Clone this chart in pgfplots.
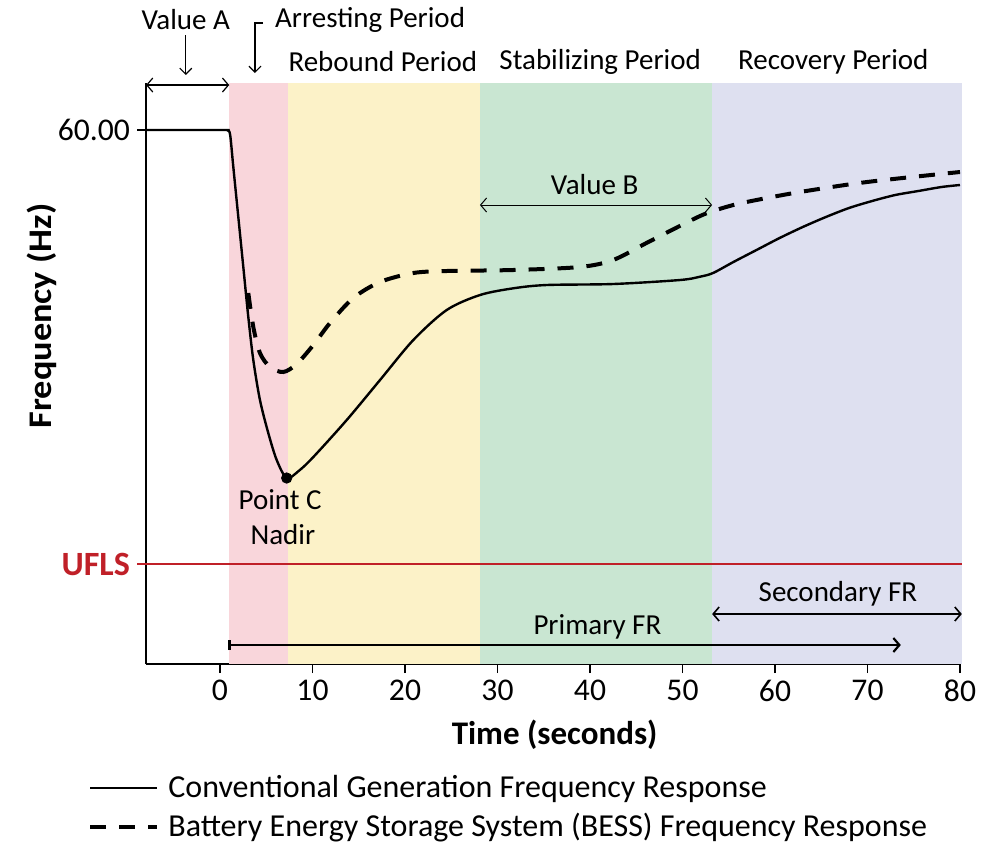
\documentclass[border=0pt]{standalone}
\usepackage{graphicx}
\usepackage{pgfplots}
\pgfplotsset{compat=1.18}
\usepackage{fontspec}
\setmainfont{Carlito}
\usetikzlibrary{arrows.meta}
\definecolor{pinkc}{RGB}{249,214,219}
\definecolor{yellowc}{RGB}{252,242,200}
\definecolor{greenc}{RGB}{201,230,210}
\definecolor{bluec}{RGB}{222,224,240}
\definecolor{uflsred}{RGB}{192,32,40}
\begin{document}
\begin{tikzpicture}[font=\fontsize{14.5pt}{17pt}\selectfont]
\begin{axis}[
  scale only axis, width=407pt, height=290.5pt,
  xmin=-8, xmax=80, ymin=0, ymax=5.81,
  axis x line*=bottom, axis y line*=left,
  axis line style={line width=0.8pt},
  clip=false,
  xtick={0,10,...,80},
  ytick={5.34}, yticklabels={60.00},
  extra y ticks={1},
  extra y tick labels={\textcolor{uflsred}{\fontsize{17pt}{19pt}\selectfont\textbf{UFLS}}},
  extra y tick style={major tick style={uflsred, line width=1pt}},
  tick align=outside, major tick length=4.5pt,
  tick style={black, line width=0.8pt},
  /pgf/number format/assume math mode=true,
  ticklabel style={font=\fontsize{15.8pt}{18pt}\selectfont},
  xlabel={\textbf{Time (seconds)}},
  xlabel style={at={(rel axis cs:0.502,-0.122)}, anchor=center, font=\fontsize{16.5pt}{19pt}\selectfont},
  ylabel={\scalebox{1.1}[1]{\textbf{Frequency (Hz)}}},
  ylabel style={at={(rel axis cs:-0.128,0.599)}, anchor=center, font=\fontsize{16.5pt}{19pt}\selectfont},
  legend style={at={(rel axis cs:-0.0713,-0.184)}, anchor=north west, draw=none, fill=none,
    font=\fontsize{16pt}{19pt}\selectfont, row sep=2.5pt, column sep=2.5pt, inner sep=0pt},
  legend cell align=left,
  legend image code/.code={\draw[#1] (0pt,0pt) -- (33.5pt,0pt);},
]
% shaded periods
\addplot[fill=pinkc, draw=none, forget plot] coordinates {(1,5.81) (7.35,5.81)} \closedcycle;
\addplot[fill=yellowc, draw=none, forget plot] coordinates {(7.35,5.81) (28.1,5.81)} \closedcycle;
\addplot[fill=greenc, draw=none, forget plot] coordinates {(28.1,5.81) (53.2,5.81)} \closedcycle;
\addplot[fill=bluec, draw=none, forget plot] coordinates {(53.2,5.81) (80.2,5.81)} \closedcycle;
% UFLS line
\addplot[uflsred, line width=1pt, forget plot] coordinates {(-8,1) (80.2,1)};
% conventional
\addplot[black, line width=1.2pt, smooth] coordinates {
(-8,5.34) (0.4,5.34) (0.85,5.335) (1.1,5.29) (1.44,4.97) (1.98,4.47) (2.52,3.97) (3.06,3.47) (3.6,3.04)
(4.32,2.64) (5.22,2.31) (6.13,2.04) (7.21,1.86) (8.5,1.93) (10.09,2.07) (13.70,2.44) (17.30,2.84)
(20.90,3.24) (24.51,3.54) (28.11,3.69) (31.71,3.757) (35.32,3.79) (42.52,3.80) (49.73,3.84)
(51.89,3.873) (53.30,3.91) (55.5,4.02) (58,4.14) (60.5,4.26) (63,4.37) (65.5,4.47) (68,4.56)
(70.5,4.63) (73,4.69) (75.5,4.73) (78,4.77) (80,4.79)};
\addlegendentry{Conventional Generation Frequency Response}
% BESS
\addplot[black, line width=2pt, dash pattern=on 8pt off 6.5pt, smooth] coordinates {
(3.06,3.71) (3.6,3.37) (4.32,3.11) (5.4,2.97) (6.84,2.92) (8.29,3.0) (10.09,3.19) (11.89,3.41)
(14.41,3.66) (17.3,3.82) (20.9,3.91) (24.5,3.93) (31.7,3.94) (38.9,3.97) (42.5,4.04) (46.1,4.21)
(49.7,4.38) (51.9,4.48) (53.3,4.53) (55.5,4.59) (58,4.64) (62.7,4.72) (69.95,4.82) (80,4.92)};
\addlegendentry{Battery Energy Storage System (BESS) Frequency Response}
% nadir point
\addplot[only marks, mark=*, mark size=2.6pt, black, forget plot] coordinates {(7.21,1.86)};
% annotations
\node at (axis cs:-3.7,6.44) {Value A};
\draw[-{Straight Barb[length=3pt,width=6pt]}, line width=0.6pt] (axis cs:-3.7,6.29) -- (axis cs:-3.7,5.89);
\draw[{Straight Barb[length=3pt,width=7pt]}-{Straight Barb[length=3pt,width=7pt]}, line width=0.6pt] (axis cs:-8,5.79) -- (axis cs:1,5.79);
\draw[-{Straight Barb[length=3pt,width=6pt]}, line width=0.6pt] (axis cs:4.65,6.41) -- (axis cs:3.78,6.41) -- (axis cs:3.78,5.91);
\node[anchor=west] at (axis cs:5.2,6.44) {Arresting Period};
\node at (axis cs:17.6,6.02) {Rebound Period};
\node at (axis cs:41.1,6.02) {Stabilizing Period};
\node at (axis cs:66.3,6.02) {Recovery Period};
\node at (axis cs:40.5,4.79) {Value B};
\draw[{Straight Barb[length=3pt,width=7pt]}-{Straight Barb[length=3pt,width=7pt]}, line width=0.5pt] (axis cs:28.1,4.59) -- (axis cs:53.2,4.59);
\node at (axis cs:6.5,1.64) {Point C};
\node at (axis cs:6.8,1.29) {Nadir};
\node at (axis cs:66.8,0.70) {Secondary FR};
\draw[{Straight Barb[length=3pt,width=7pt]}-{Straight Barb[length=3pt,width=7pt]}, line width=0.8pt] (axis cs:53.2,0.50) -- (axis cs:80.2,0.50);
\node at (axis cs:40.8,0.37) {Primary FR};
\draw[{Bar[width=5pt]}-{Straight Barb[length=3pt,width=7pt]}, line width=1.1pt] (axis cs:0.9,0.19) -- (axis cs:73.6,0.19);
\end{axis}
\pgfresetboundingbox
\path[use as bounding box] ([xshift=-73pt,yshift=-89pt]current axis.south west) rectangle ([xshift=15.5pt,yshift=41.5pt]current axis.north east);
\end{tikzpicture}
\end{document}
